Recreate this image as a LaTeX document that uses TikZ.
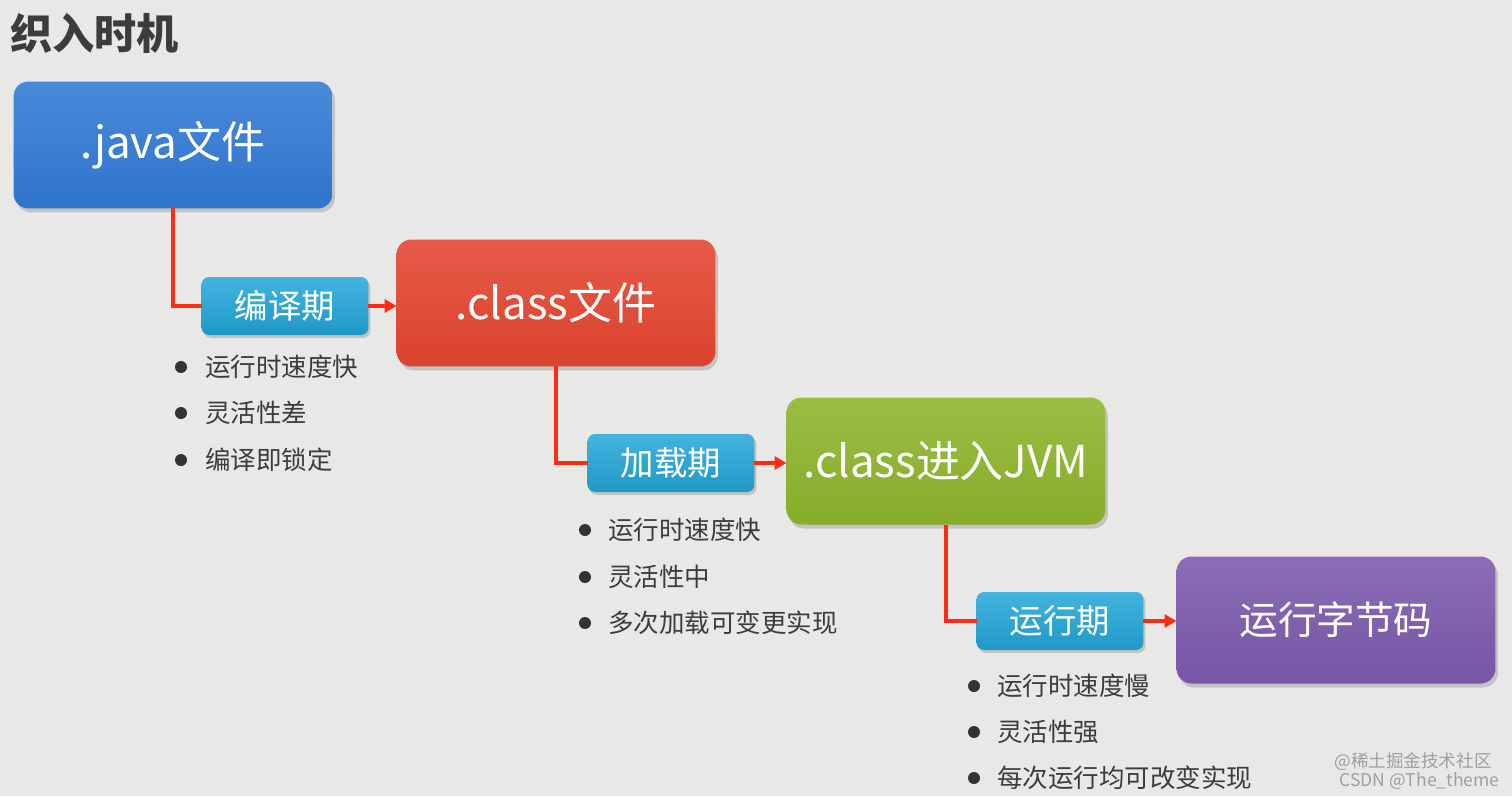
\documentclass[tikz,border=0pt]{standalone}
\usepackage{fontspec}
\setmainfont{Noto Sans CJK SC}
\usetikzlibrary{shadows,arrows.meta}
\definecolor{bgc}{HTML}{E8E8E6}
\definecolor{cblue}{HTML}{3179D4}
\definecolor{cred}{HTML}{E3452F}
\definecolor{cgreen}{HTML}{8CB42B}
\definecolor{cpurple}{HTML}{7B59AC}
\definecolor{ccyan}{HTML}{22A6D8}
\definecolor{cline}{HTML}{FF2A14}
\definecolor{ctext}{HTML}{3C3C3C}
\tikzset{
  bigbox/.style={minimum width=6.38cm, minimum height=2.54cm, inner sep=0pt, outer sep=0pt,
    rounded corners=0.3cm, text=white, font=\fontsize{25}{30}\selectfont,
    top color=#1!88!white, bottom color=#1!96!black,
    drop shadow={opacity=0.35, shadow xshift=0.05cm, shadow yshift=-0.08cm}},
  phase/.style={minimum width=3.34cm, minimum height=1.16cm, inner sep=0pt, outer sep=0pt,
    rounded corners=0.15cm, text=white, font=\fontsize{19}{23}\selectfont,
    top color=ccyan!85!white, bottom color=ccyan!92!black,
    drop shadow={opacity=0.35, shadow xshift=0.04cm, shadow yshift=-0.06cm}},
  conn/.style={draw=cline, line width=2.2pt},
  arr/.style={conn, -{Triangle[length=0.24cm, width=0.26cm]}},
  item/.style={anchor=west, inner sep=0pt, text=ctext, font=\fontsize{14.5}{18}\selectfont},
  dot/.style={fill=ctext!85!black},
  wm/.style={anchor=east, inner sep=0pt, text=gray!75, font=\fontsize{10}{12}\selectfont}
}
\begin{document}
\begin{tikzpicture}[x=0.02cm, y=-0.02cm]
\fill[bgc] (0,0) rectangle (1512,796);
\useasboundingbox (0,0) rectangle (1512,796);
\node[anchor=west, inner sep=0pt, text=ctext, font=\fontsize{24}{28}\bfseries\selectfont] (title) at (10,33) {织入时机};

\node[bigbox=cblue] (java) at (173,145) {.java文件};
\node[phase] (p1) at (285,306) {编译期};
\node[bigbox=cred] (cls) at (556,303) {.class文件};
\node[phase] (p2) at (671,463) {加载期};
\node[bigbox=cgreen] (jvm) at (946,461) {.class进入JVM};
\node[phase] (p3) at (1060,621) {运行期};
\node[bigbox=cpurple, font=\fontsize{22}{26}\selectfont] (run) at (1336,620) {运行字节码};

\draw[conn] (java.south) |- (p1.west);
\draw[arr] (p1.east) -- (p1.east -| cls.west);
\draw[conn] (cls.south) |- (p2.west);
\draw[arr] (p2.east) -- (p2.east -| jvm.west);
\draw[conn] (jvm.south) |- (p3.west);
\draw[arr] (p3.east) -- (p3.east -| run.west);

\fill[dot] (181,367) circle (0.12cm); \node[item] (a1) at (205,367) {运行时速度快};
\fill[dot] (181,413) circle (0.12cm); \node[item] (a2) at (205,413) {灵活性差};
\fill[dot] (181,460) circle (0.12cm); \node[item] (a3) at (205,460) {编译即锁定};

\fill[dot] (585,530) circle (0.12cm); \node[item] (b1) at (608,530) {运行时速度快};
\fill[dot] (585,577) circle (0.12cm); \node[item] (b2) at (608,577) {灵活性中};
\fill[dot] (585,623) circle (0.12cm); \node[item] (b3) at (608,623) {多次加载可变更实现};

\fill[dot] (974,686) circle (0.12cm); \node[item] (c1) at (997,686) {运行时速度慢};
\fill[dot] (974,732) circle (0.12cm); \node[item] (c2) at (997,732) {灵活性强};
\fill[dot] (974,778) circle (0.12cm); \node[item] (c3) at (997,778) {每次运行均可改变实现};

\node[wm] (w1) at (1492,762) {@稀土掘金技术社区};
\node[wm] (w2) at (1500,781) {CSDN @The\_theme};
\end{tikzpicture}
\end{document}
